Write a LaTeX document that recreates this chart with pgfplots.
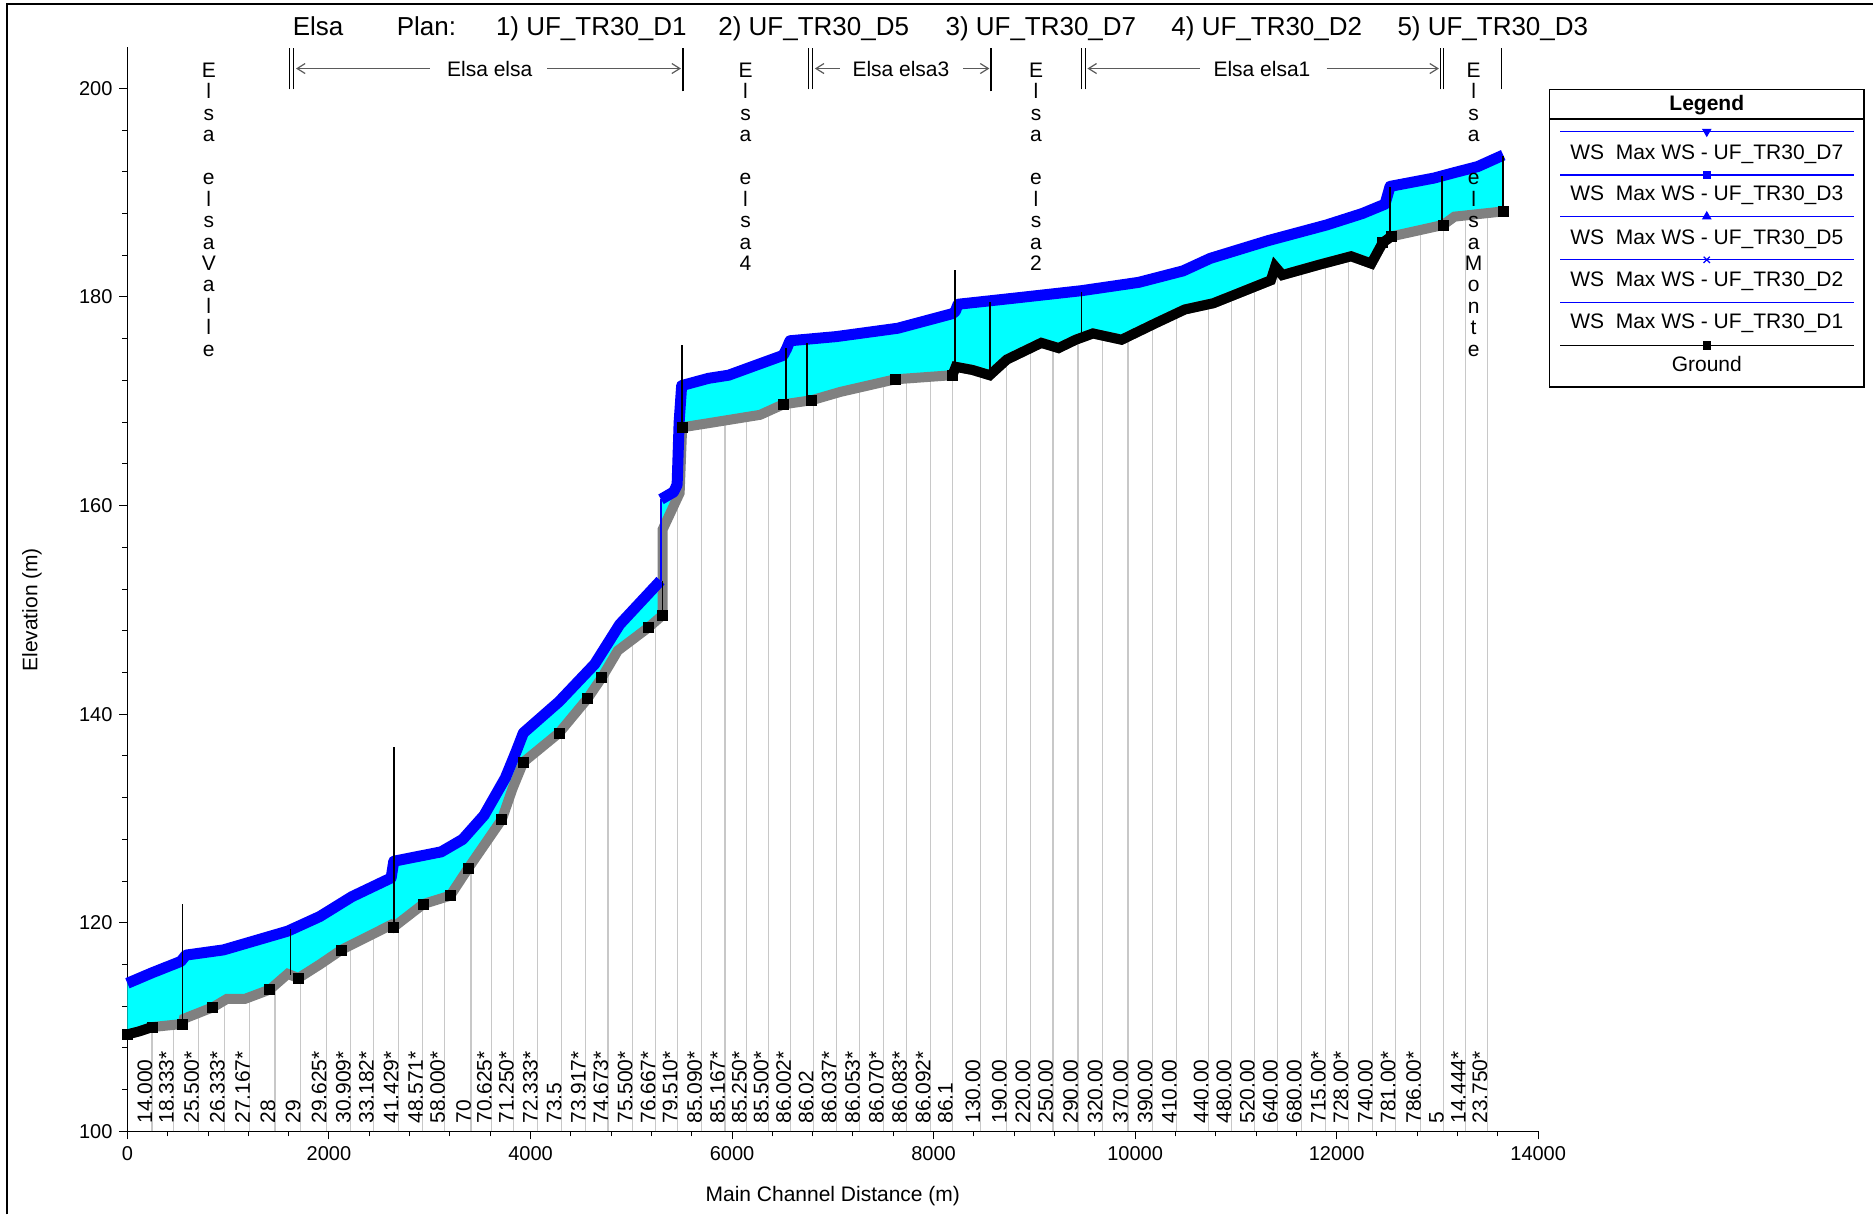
\documentclass[border=0pt]{standalone}
\usepackage{pgfplots}
\pgfplotsset{compat=1.18}
\usepackage{pgfplotstable}
\usepgfplotslibrary{fillbetween}
\usetikzlibrary{arrows.meta}
\usepackage{fontspec}
\setmainfont{Liberation Sans}
\definecolor{wsblue}{RGB}{0,0,255}
\definecolor{water}{RGB}{0,255,255}
\definecolor{xsgray}{RGB}{200,200,200}
\definecolor{gndgray}{RGB}{128,128,128}
\definecolor{arrgray}{RGB}{90,90,90}

\pgfplotstableread{
x y
0 109.3
120 109.6
243 110.0
546 110.3
560 110.8
847 111.9
987 112.7
1165 112.7
1413 113.6
1591 115.1
1697 114.7
1909 116.0
2122 117.4
2617 119.8
2643 119.6
2937 121.8
3203 122.6
3380 125.2
3715 129.9
3823 132.9
3929 135.4
4283 138.2
4566 141.5
4707 143.5
4867 146.1
5169 148.3
5311 149.5
5311 157.7
5480 161.2
5505 167.5
5767 167.9
6279 168.7
6507 169.7
6791 170.1
7076 170.9
7617 172.1
8187 172.5
8220 173.3
8386 173.0
8557 172.5
8727 174.0
9069 175.6
9240 175.1
9411 175.9
9581 176.5
9866 175.9
10036 176.7
10207 177.5
10493 178.8
10777 179.4
11062 180.5
11347 181.6
11390 182.9
11461 182.1
11830 183.1
12143 183.9
12344 183.2
12457 185.2
12542 185.8
13055 186.9
13169 187.7
13653 188.2
}\ground

\pgfplotstableread{
x y
0 109.3
243 110.0
546 110.3
847 111.9
1413 113.6
1697 114.7
2122 117.4
2643 119.6
2937 121.8
3203 122.6
3380 125.2
3715 129.9
3929 135.4
4283 138.2
4566 141.5
4707 143.5
5169 148.3
5311 149.5
5505 167.5
6507 169.7
6791 170.1
7617 172.1
8187 172.5
12457 185.2
12542 185.8
13055 186.9
13653 188.2
}\groundreal

\pgfplotstableread{
x y
8187 172.5
8220 173.3
8386 173.0
8557 172.5
8727 174.0
9069 175.6
9240 175.1
9411 175.9
9581 176.5
9866 175.9
10036 176.7
10207 177.5
10493 178.8
10777 179.4
11062 180.5
11347 181.6
11390 182.9
11461 182.1
11830 183.1
12143 183.9
12344 183.2
12457 185.2
12542 185.8
}\grounddense

\pgfplotstableread{
x y
0 109.3
120 109.6
243 110.0
}\groundstart

\pgfplotstableread{
x y
0 114.2
243 115.2
530 116.3
580 116.9
953 117.4
1343 118.5
1591 119.2
1909 120.6
2227 122.5
2617 124.3
2643 125.9
3114 126.8
3327 128.0
3539 130.3
3751 133.9
3857 136.4
3929 138.2
4283 141.2
4637 144.8
4885 148.6
5290 152.8
}\wslow

\pgfplotstableread{
x y
5295 160.6
5420 161.3
5455 162.0
5475 168.0
5500 171.5
5576 171.7
5767 172.2
5967 172.5
6222 173.4
6507 174.4
6540 175.0
6575 175.8
7035 176.2
7645 177.0
8187 178.4
8215 178.6
8243 179.3
8815 179.9
9467 180.6
10036 181.4
10476 182.5
10746 183.7
11320 185.4
11899 186.9
12255 188.0
12480 188.9
12530 190.6
12967 191.4
13160 191.9
13400 192.5
13653 193.6
}\wsup

\pgfplotstableread{
x y
0 114.2
243 115.2
530 116.3
580 116.9
953 117.4
1343 118.5
1591 119.2
1909 120.6
2227 122.5
2617 124.3
2643 125.9
3114 126.8
3327 128.0
3539 130.3
3751 133.9
3857 136.4
3929 138.2
4283 141.2
4637 144.8
4885 148.6
5290 152.8
5295 160.6
5420 161.3
5455 162.0
5475 168.0
5500 171.5
5576 171.7
5767 172.2
5967 172.5
6222 173.4
6507 174.4
6540 175.0
6575 175.8
7035 176.2
7645 177.0
8187 178.4
8215 178.6
8243 179.3
8815 179.9
9467 180.6
10036 181.4
10476 182.5
10746 183.7
11320 185.4
11899 186.9
12255 188.0
12480 188.9
12530 190.6
12967 191.4
13160 191.9
13400 192.5
13653 193.6
}\wsall

\begin{document}
\begin{tikzpicture}
\path (0,0) rectangle (937pt,607.5pt);
\draw[line width=1pt] (3.5pt,0) -- (3.5pt,605.5pt) -- (937pt,605.5pt);
\begin{axis}[
  at={(63.75pt,41.5pt)}, anchor=south west,
  scale only axis, width=705.75pt, height=542.67pt,
  xmin=0, xmax=14000, ymin=100, ymax=204,
  axis lines=left, axis line style={-, line width=0.6pt},
  clip=false,
  xtick={0,2000,...,14000}, ytick={100,120,...,200},
  minor x tick num=4, minor y tick num=4,
  tick align=outside, major tick length=4pt, minor tick length=2.5pt,
  tick style={black, line width=0.5pt},
  /pgf/number format/1000 sep={}, scaled x ticks=false,
  /pgf/number format/assume math mode=true,
  ticklabel style={font=\fontsize{10}{12}\selectfont},
  xlabel={Main Channel Distance (m)}, ylabel={Elevation (m)},
  label style={font=\fontsize{10.5}{12}\selectfont},
  xlabel style={at={(axis description cs:0.5,-0.0594)}, anchor=center},
  ylabel style={at={(axis description cs:-0.0677,0.4808)}, anchor=center},
]
% cross-section station lines
\addplot[xsgray, line width=0.6pt, unbounded coords=jump, forget plot] coordinates {
(244,100) (244,109.8) (244,nan)
(458,100) (458,110.0) (458,nan)
(709,100) (709,111.0) (709,nan)
(964,100) (964,112.3) (964,nan)
(1214,100) (1214,112.7) (1214,nan)
(1465,100) (1465,113.9) (1465,nan)
(1715,100) (1715,114.6) (1715,nan)
(1975,100) (1975,116.1) (1975,nan)
(2216,100) (2216,117.6) (2216,nan)
(2444,100) (2444,118.7) (2444,nan)
(2690,100) (2690,119.7) (2690,nan)
(2931,100) (2931,121.5) (2931,nan)
(3150,100) (3150,122.2) (3150,nan)
(3409,100) (3409,125.4) (3409,nan)
(3614,100) (3614,128.2) (3614,nan)
(3833,100) (3833,132.8) (3833,nan)
(4070,100) (4070,136.2) (4070,nan)
(4307,100) (4307,138.2) (4307,nan)
(4548,100) (4548,141.0) (4548,nan)
(4770,100) (4770,144.0) (4770,nan)
(5012,100) (5012,147.0) (5012,nan)
(5240,100) (5240,148.6) (5240,nan)
(5457,100) (5457,160.5) (5457,nan)
(5700,100) (5700,167.5) (5700,nan)
(5930,100) (5930,167.9) (5930,nan)
(6145,100) (6145,168.3) (6145,nan)
(6360,100) (6360,168.8) (6360,nan)
(6584,100) (6584,169.5) (6584,nan)
(6808,100) (6808,169.9) (6808,nan)
(7035,100) (7035,170.5) (7035,nan)
(7268,100) (7268,171.0) (7268,nan)
(7505,100) (7505,171.5) (7505,nan)
(7734,100) (7734,171.9) (7734,nan)
(7967,100) (7967,172.1) (7967,nan)
(8190,100) (8190,172.2) (8190,nan)
(8463,100) (8463,172.5) (8463,nan)
(8724,100) (8724,173.7) (8724,nan)
(8958,100) (8958,174.8) (8958,nan)
(9185,100) (9185,175.0) (9185,nan)
(9433,100) (9433,175.6) (9433,nan)
(9675,100) (9675,176.1) (9675,nan)
(9929,100) (9929,175.9) (9929,nan)
(10171,100) (10171,177.0) (10171,nan)
(10412,100) (10412,178.1) (10412,nan)
(10726,100) (10726,179.0) (10726,nan)
(10953,100) (10953,179.8) (10953,nan)
(11186,100) (11186,180.7) (11186,nan)
(11413,100) (11413,182.1) (11413,nan)
(11650,100) (11650,182.3) (11650,nan)
(11891,100) (11891,182.9) (11891,nan)
(12114,100) (12114,183.5) (12114,nan)
(12356,100) (12356,183.0) (12356,nan)
(12583,100) (12583,185.6) (12583,nan)
(12835,100) (12835,186.1) (12835,nan)
(13062,100) (13062,186.6) (13062,nan)
(13281,100) (13281,187.5) (13281,nan)
(13494,100) (13494,187.7)
};
% water between
\addplot[draw=none, name path=wsallp, forget plot] table {\wsall};
\addplot[draw=none, name path=grallp, forget plot] table {\ground};
\addplot[fill=water, draw=none, forget plot] fill between[of=wsallp and grallp];
% ground
\addplot[gndgray, line width=5pt, forget plot] table {\ground};
\addplot[black, line width=5pt, forget plot] table {\grounddense};
\addplot[black, line width=5pt, forget plot] table {\groundstart};
\addplot[black, only marks, mark=square*, mark size=2.5pt, forget plot] table {\groundreal};
% water surface
\addplot[wsblue, line width=5.5pt, line join=round, forget plot] table {\wslow};
\addplot[wsblue, line width=5.5pt, line join=round, forget plot] table {\wsup};
\addplot[wsblue, line width=1.2pt, forget plot] coordinates {(5292,152.8) (5292,160.6)};
% junction / structure lines
\addplot[black, line width=0.8pt, unbounded coords=jump, forget plot] coordinates {
(546,110.3) (546,121.8) (546,nan)
(1619,115.0) (1619,119.4) (1619,nan)
(2643,119.6) (2643,136.9) (2643,nan)
(5311,149.5) (5311,152.8) (5311,nan)
(5505,167.5) (5505,175.4) (5505,nan)
(6535,169.8) (6535,175.1) (6535,nan)
(6745,170.0) (6745,175.6) (6745,nan)
(8215,173.3) (8215,182.6) (8215,nan)
(8557,172.5) (8557,179.5) (8557,nan)
(9467,176.0) (9467,180.5) (9467,nan)
(12531,185.7) (12531,190.5) (12531,nan)
(13044,186.9) (13044,191.6) (13044,nan)
(13653,188.2) (13653,193.5)
};
% reach boundary bars at top
\addplot[black, line width=0.5pt, unbounded coords=jump, forget plot] coordinates {
(1613,199.9) (1613,203.9) (1613,nan)
(1649,199.9) (1649,203.9) (1649,nan)
(6762,199.9) (6762,203.9) (6762,nan)
(6798,199.9) (6798,203.9) (6798,nan)
(9467,199.9) (9467,203.9) (9467,nan)
(9503,199.9) (9503,203.9) (9503,nan)
(13027,199.9) (13027,203.9) (13027,nan)
(13062,199.9) (13062,203.9) (13062,nan)
(13632,199.9) (13632,203.9)
};
\addplot[black, line width=1.1pt, unbounded coords=jump, forget plot] coordinates {
(5517,199.7) (5517,203.9) (5517,nan)
(8566,199.7) (8566,203.9)
};
% reach arrows
\draw[arrgray, line width=0.6pt, {Straight Barb[length=4pt,width=5pt]}-] (axis cs:1673,201.9) -- (axis cs:3002,201.9);
\draw[arrgray, line width=0.6pt, -{Straight Barb[length=4pt,width=5pt]}] (axis cs:4164,201.9) -- (axis cs:5493,201.9);
\node[font=\fontsize{10.5}{12}\selectfont, inner sep=0] at (axis cs:3595,201.85) {Elsa elsa};
\draw[arrgray, line width=0.6pt, {Straight Barb[length=4pt,width=5pt]}-] (axis cs:6822,201.9) -- (axis cs:7071,201.9);
\draw[arrgray, line width=0.6pt, -{Straight Barb[length=4pt,width=5pt]}] (axis cs:8293,201.9) -- (axis cs:8554,201.9);
\node[font=\fontsize{10.5}{12}\selectfont, inner sep=0] at (axis cs:7676,201.85) {Elsa elsa3};
\draw[arrgray, line width=0.6pt, {Straight Barb[length=4pt,width=5pt]}-] (axis cs:9527,201.9) -- (axis cs:10642,201.9);
\draw[arrgray, line width=0.6pt, -{Straight Barb[length=4pt,width=5pt]}] (axis cs:11900,201.9) -- (axis cs:13015,201.9);
\node[font=\fontsize{10.5}{12}\selectfont, inner sep=0] at (axis cs:11259,201.85) {Elsa elsa1};
% title
\node[anchor=base west, font=\fontsize{13}{15}\selectfont, inner sep=0] at (axis cs:1637,205.06) {Elsa};
\node[anchor=base west, font=\fontsize{13}{15}\selectfont, inner sep=0] at (axis cs:2669,205.06) {Plan:};
\node[anchor=base west, font=\fontsize{13}{15}\selectfont, inner sep=0] at (axis cs:3654,205.06) {1) UF\_TR30\_D1};
\node[anchor=base west, font=\fontsize{13}{15}\selectfont, inner sep=0] at (axis cs:5861,205.06) {2) UF\_TR30\_D5};
\node[anchor=base west, font=\fontsize{13}{15}\selectfont, inner sep=0] at (axis cs:8115,205.06) {3) UF\_TR30\_D7};
\node[anchor=base west, font=\fontsize{13}{15}\selectfont, inner sep=0] at (axis cs:10357,205.06) {4) UF\_TR30\_D2};
\node[anchor=base west, font=\fontsize{13}{15}\selectfont, inner sep=0] at (axis cs:12600,205.06) {5) UF\_TR30\_D3};
% vertical river names
\node[anchor=north, align=center, inner sep=0, font=\fontsize{10.5}{10.75}\selectfont] at (axis cs:807,202.5) {E\\l\\s\\a\\~\\e\\l\\s\\a\\V\\a\\l\\l\\e};
\node[anchor=north, align=center, inner sep=0, font=\fontsize{10.5}{10.75}\selectfont] at (axis cs:6134,202.5) {E\\l\\s\\a\\~\\e\\l\\s\\a\\4};
\node[anchor=north, align=center, inner sep=0, font=\fontsize{10.5}{10.75}\selectfont] at (axis cs:9017,202.5) {E\\l\\s\\a\\~\\e\\l\\s\\a\\2};
\node[anchor=north, align=center, inner sep=0, font=\fontsize{10.5}{10.75}\selectfont] at (axis cs:13359,202.5) {E\\l\\s\\a\\~\\e\\l\\s\\a\\M\\o\\n\\t\\e};
% station labels
\foreach \xx/\ll in {244/14.000, 458/18.333*, 709/25.500*, 964/26.333*, 1214/27.167*, 1465/28, 1715/29, 1975/29.625*, 2216/30.909*, 2444/33.182*, 2690/41.429*, 2931/48.571*, 3150/58.000*, 3409/70, 3614/70.625*, 3833/71.250*, 4070/72.333*, 4307/73.5, 4548/73.917*, 4770/74.673*, 5012/75.500*, 5240/76.667*, 5457/79.510*, 5700/85.090*, 5930/85.167*, 6145/85.250*, 6360/85.500*, 6584/86.002*, 6808/86.02, 7035/86.037*, 7268/86.053*, 7505/86.070*, 7734/86.083*, 7967/86.092*, 8190/86.1, 8463/130.00, 8724/190.00, 8958/220.00, 9185/250.00, 9433/290.00, 9675/320.00, 9929/370.00, 10171/390.00, 10412/410.00, 10726/440.00, 10953/480.00, 11186/520.00, 11413/640.00, 11650/680.00, 11891/715.00*, 12114/728.00*, 12356/740.00, 12583/781.00*, 12835/786.00*, 13062/5, 13281/14.444*, 13494/23.750*} {
  \edef\tmp{\noexpand\node[rotate=90, anchor=base west, inner sep=0, xshift=-1pt, font=\noexpand\fontsize{10.5}{12}\noexpand\selectfont] at (axis cs:\xx,100.9) {\ll};}\tmp
}
% legend
\draw[black, line width=0.6pt, fill=white] (axis cs:14116,171.36) rectangle (axis cs:17233,199.91);
\draw[black, line width=0.6pt] (axis cs:14116,197.07) -- (axis cs:17233,197.07);
\node[anchor=base, inner sep=0, font=\bfseries\fontsize{10.5}{12}\selectfont] at (axis cs:15673,197.91) {Legend};
\addplot[wsblue, line width=0.6pt, mark=triangle*, mark options={rotate=180}, mark size=2.2pt, mark indices={2}, forget plot] coordinates {(14218,195.85) (15673,195.85) (17134,195.85)};
\addplot[wsblue, line width=0.6pt, mark=square*, mark size=1.8pt, mark indices={2}, forget plot] coordinates {(14218,191.70) (15673,191.70) (17134,191.70)};
\addplot[wsblue, line width=0.6pt, mark=triangle*, mark size=2.2pt, mark indices={2}, forget plot] coordinates {(14218,187.71) (15673,187.71) (17134,187.71)};
\addplot[wsblue, line width=0.6pt, mark=x, mark size=2.2pt, mark indices={2}, forget plot] coordinates {(14218,183.56) (15673,183.56) (17134,183.56)};
\addplot[wsblue, line width=0.6pt, forget plot] coordinates {(14218,179.47) (17134,179.47)};
\addplot[black, line width=0.6pt, mark=square*, mark size=1.8pt, mark indices={2}, forget plot] coordinates {(14218,175.35) (15673,175.35) (17134,175.35)};
\node[anchor=base, inner sep=0, font=\fontsize{10.5}{12}\selectfont] at (axis cs:15673,193.22) {WS\ \ Max WS - UF\_TR30\_D7};
\node[anchor=base, inner sep=0, font=\fontsize{10.5}{12}\selectfont] at (axis cs:15673,189.23) {WS\ \ Max WS - UF\_TR30\_D3};
\node[anchor=base, inner sep=0, font=\fontsize{10.5}{12}\selectfont] at (axis cs:15673,185.07) {WS\ \ Max WS - UF\_TR30\_D5};
\node[anchor=base, inner sep=0, font=\fontsize{10.5}{12}\selectfont] at (axis cs:15673,180.98) {WS\ \ Max WS - UF\_TR30\_D2};
\node[anchor=base, inner sep=0, font=\fontsize{10.5}{12}\selectfont] at (axis cs:15673,176.93) {WS\ \ Max WS - UF\_TR30\_D1};
\node[anchor=base, inner sep=0, font=\fontsize{10.5}{12}\selectfont] at (axis cs:15673,172.87) {Ground};
\end{axis}
\end{tikzpicture}
\end{document}
